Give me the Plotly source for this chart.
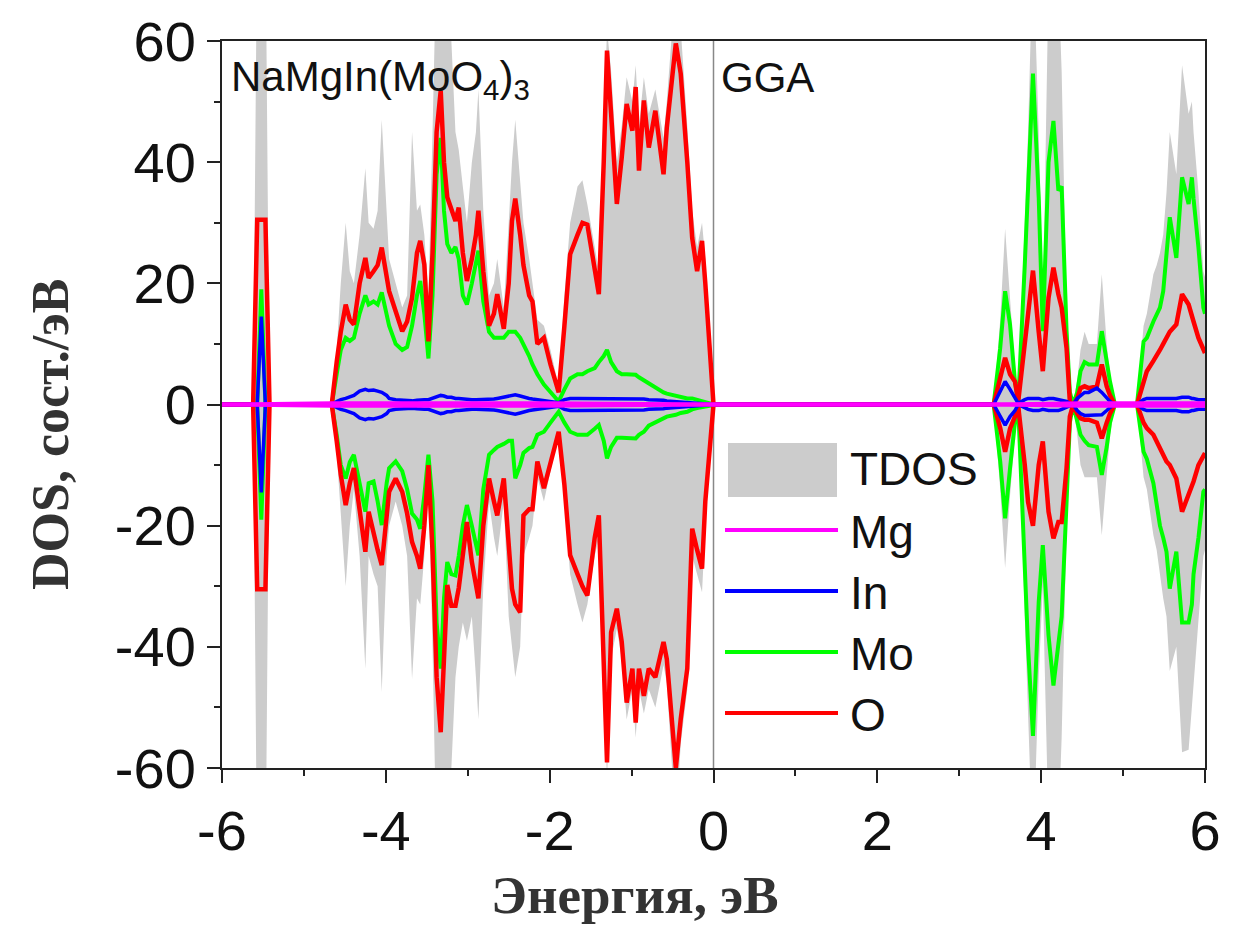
import plotly.graph_objects as go

# ---------------- data ----------------
# energy grid, eV  (three bands: low-lying spike, valence band, conduction band)
e_spike = [-6.00, -5.62, -5.57, -5.52, -5.47, -5.42]
e_vb = [-4.66, -4.60, -4.55, -4.49, -4.44, -4.39, -4.32, -4.25, -4.21, -4.15,
        -4.10, -4.05, -3.99, -3.96, -3.88, -3.80, -3.74, -3.68, -3.62, -3.58,
        -3.53, -3.48, -3.43, -3.38, -3.33, -3.29, -3.25, -3.20, -3.15, -3.11,
        -3.06, -3.01, -2.95, -2.90, -2.87, -2.81, -2.74, -2.68, -2.64, -2.56,
        -2.50, -2.46, -2.42, -2.36, -2.32, -2.25, -2.21, -2.15, -2.07, -1.99,
        -1.89, -1.82, -1.75, -1.66, -1.60, -1.54, -1.45, -1.40, -1.34, -1.30,
        -1.25, -1.18, -1.12, -1.06, -0.99, -0.95, -0.91, -0.85, -0.79, -0.71,
        -0.61, -0.57, -0.46, -0.40, -0.32, -0.26, -0.20, -0.14, -0.10, -0.05, 0.00]
e_cb = [3.42, 3.50, 3.56, 3.62, 3.68, 3.72, 3.80, 3.84, 3.90, 3.97,
        4.02, 4.09, 4.15, 4.21, 4.25, 4.31, 4.35, 4.39, 4.44, 4.48,
        4.53, 4.58, 4.68, 4.74, 4.80, 4.84, 4.90, 5.17, 5.25, 5.29,
        5.37, 5.41, 5.45, 5.49, 5.53, 5.57, 5.65, 5.72, 5.80, 5.84,
        5.86, 5.92, 5.98, 6.00]

# ---- TDOS (spin up / spin down)
tdos_up_spike = [0, 0, 80, 80, 80, 0]
tdos_up_vb = [0, 9, 20, 30, 22, 20, 28, 39, 30, 29,
              32, 47, 30, 24, 20, 16, 18, 45, 32, 33,
              28, 18, 45, 75, 75, 75, 70, 60, 45, 42,
              36, 30, 40, 45, 52, 32, 18, 20, 24, 16,
              30, 40, 47, 36, 30, 24, 20, 14, 13, 9,
              3, 18, 30, 36, 37, 33, 26, 22, 45, 62,
              55, 40, 46, 54, 50, 56, 46, 54, 48, 52,
              44, 50, 70, 62, 46, 32, 26, 30, 24, 12, 0]
tdos_up_cb = [0, 14, 29, 18, 6, 1, 30, 45, 75, 45,
              15, 70, 75, 70, 55, 15, 2, 0, 4, 9,
              12, 10, 10, 21.5, 10, 5, 0, 0, 13, 15,
              21.5, 23, 25, 28, 35, 45, 38, 56, 48, 50,
              45, 35, 22, 21]
tdos_dn_spike = [0, 0, -80, -80, -80, 0]
tdos_dn_vb = [0, -8, -18, -30, -20, -14, -25, -43.6, -25, -28,
              -30, -47.5, -25, -20, -16, -20, -25, -45.3, -32, -33,
              -25, -12, -40, -75, -75, -75, -75, -60, -45, -40,
              -36, -39, -35, -45, -52, -30, -16, -22, -25, -16,
              -35, -40, -45, -40, -25, -22, -20, -12, -16, -11,
              -5, -16, -28, -33, -36, -33, -25, -22, -47, -62,
              -42, -37, -42, -52, -47, -55, -47, -51, -47, -50,
              -43, -46, -70, -56, -47, -25, -28, -31, -20, -10, 0]
tdos_dn_cb = [0, -14, -27, -15, -5, -1, -35, -50, -75, -45,
              -30, -70, -75, -70, -55, -20, -4, 0, -5, -10,
              -12, -12, -12, -21.6, -12, -5, 0, 0, -12, -14,
              -21.6, -24, -28, -32, -35, -44, -40, -57.4, -57, -50,
              -45, -35, -25, -24]

# ---- O partial DOS
o_up_spike = [0, 0, 30.5, 30.5, 30.5, 0]
o_up_vb = [0, 7, 12, 16.5, 14, 13.2, 20, 24.2, 20.9, 22,
           23, 25.9, 21, 18.7, 15.4, 12.1, 13.7, 17.6, 25, 27,
           23.1, 10.4, 25, 45, 51.8, 40, 34.2, 32, 30.3, 32.5,
           25, 20.4, 24, 28, 32, 22, 13, 15, 18.2, 12.5,
           20, 30.3, 34, 28, 23, 18, 17, 10, 11, 6.6,
           2, 13, 24.8, 28, 30, 29.7, 22, 18.2, 40, 58.4,
           48, 33.1, 40.8, 49.6, 45.2, 52.4, 38.6, 50.2, 42.4, 48.5,
           38, 45.7, 59.6, 54.6, 40, 27.5, 22, 27, 20, 10, 0]
o_up_cb = [0, 4, 7.7, 5, 3.8, 0.5, 10, 15, 22.1, 12,
           5.5, 17.6, 22.6, 18.2, 16, 9.3, 0.5, 0, 1, 2.7,
           3, 2.7, 3, 6.6, 3, 1.5, 0, 0, 4, 5.5,
           7.2, 8, 9, 10, 11, 12, 13.2, 18.2, 16.5, 15,
           13.7, 11, 8.8, 8.5]
o_dn_spike = [0, 0, -30.5, -30.5, -30.5, 0]
o_dn_vb = [0, -6, -11.6, -16.6, -13, -10.5, -18, -24.3, -17.7, -21.6,
           -24, -26.5, -18, -14.4, -12.2, -14.4, -18, -22.7, -25, -27.1,
           -20, -10, -24.3, -45, -54.1, -43.6, -29.8, -33.2, -33.2, -30.3,
           -25, -19.4, -26, -30, -32, -20, -12.2, -16, -18.3, -12.2,
           -22, -30.4, -33, -34.3, -18.3, -17.3, -17.3, -9.4, -13.8, -9.4,
           -4.5, -13.3, -24.9, -28, -30, -31.5, -22, -18.3, -43.6, -59.1,
           -37.6, -33.7, -39.2, -49.2, -43.6, -52.5, -43.6, -48.1, -43.6, -45,
           -39.2, -42, -60, -51.9, -43.6, -20.5, -24, -27.1, -16, -8, 0]
o_dn_cb = [0, -3.9, -7.8, -4, -2, -0.3, -10, -16.1, -20, -10,
           -6.1, -17.7, -22.1, -19.4, -19.4, -10.5, -2, 0, -1.5, -2.3,
           -2.5, -2.5, -3, -5.6, -3, -1.5, 0, 0, -3, -3.9,
           -5, -6.1, -7.5, -8.5, -9.4, -10, -12.2, -17.7, -15, -13.5,
           -12.7, -10, -8.3, -8]

# ---- Mo partial DOS
mo_up_spike = [0, 0, 0, 19, 0, 0]
mo_up_vb = [0, 5, 9, 11, 10.5, 11, 15, 18, 16.5, 17,
            16.5, 18.5, 15, 13, 10, 9, 9.5, 13, 18, 20.4,
            15, 7.6, 18, 38, 44, 32, 26.5, 25, 26, 24,
            18, 16.5, 20, 23, 25.4, 17, 12, 11, 11, 11,
            12, 12, 12, 11, 10, 8, 6.6, 5, 3.3, 2,
            0.5, 2.5, 4.3, 5, 5, 5.5, 6, 7, 8, 9,
            7, 5.5, 5, 5, 5, 4.9, 4.5, 4, 3.5, 2.7,
            2, 1.8, 1.4, 1.2, 1, 1, 0.8, 0.6, 0.5, 0.3, 0]
mo_up_cb = [0, 9.3, 18.7, 13.2, 3.8, 0.5, 23.1, 35, 54.6, 34.2,
            12.1, 40, 46.8, 35.3, 36, 12.1, 2, 0, 2, 5.5,
            7, 6.6, 6.6, 12.1, 7, 3.8, 0, 0, 10.4, 11,
            13.7, 15, 16, 18.7, 25, 30.9, 24.2, 37.5, 33.1, 37.5,
            34, 25.9, 16, 15]
mo_dn_spike = [0, 0, 0, -19, 0, 0]
mo_dn_vb = [0, -5, -10, -12.2, -9.5, -8.3, -13, -17.7, -13, -12.7,
            -16, -19.9, -13, -10.5, -9.4, -11, -14, -18, -19, -20.5,
            -15, -8.3, -16, -36, -43.6, -32, -26, -28, -28.2, -25,
            -20, -16.6, -20, -23, -24.9, -14, -8.3, -7.5, -7, -6.5,
            -6, -6, -12.2, -10, -8, -7.2, -7, -5, -4.5, -3,
            -1.2, -3, -4.5, -5, -5, -5, -4, -3.4, -6, -8.9,
            -7, -5.5, -5.5, -5.5, -5.6, -5.6, -5, -4.5, -3.5, -3,
            -2.3, -2, -1.7, -1.4, -1.2, -0.8, -0.6, -0.5, -0.3, -0.2, 0]
mo_dn_cb = [0, -9.4, -18.8, -10.5, -3, -0.5, -27.1, -40, -54.7, -32.6,
            -23.2, -38.1, -46.4, -39.2, -35, -16.1, -3, 0, -3, -5,
            -6, -6.7, -7, -11.6, -7, -3, 0, 0, -7.8, -9,
            -13, -16.1, -20, -22, -24.3, -30.4, -24.3, -36, -36, -33,
            -28, -22, -14.4, -14]

# ---- In partial DOS
in_up_spike = [0, 0, 0, 14.5, 0, 0]
in_up_vb = [0, 0.5, 0.8, 1, 1.2, 1.5, 2.2, 2.5, 2.3, 2.4,
            2.2, 2, 1.5, 1, 0.8, 0.7, 0.6, 0.6, 0.7, 0.8,
            0.8, 0.8, 1, 1.2, 1.5, 1.4, 1.2, 1.2, 1, 1,
            0.9, 0.8, 0.8, 0.8, 0.8, 0.8, 0.8, 0.9, 1, 1.2,
            1.4, 1.5, 1.6, 1.4, 1.2, 1, 0.9, 0.8, 0.7, 0.6,
            0.3, 0.8, 1, 1, 1, 1, 1, 1, 1, 1,
            1, 1, 1, 1, 1, 1, 0.9, 0.9, 0.8, 0.8,
            0.7, 0.6, 0.5, 0.5, 0.4, 0.3, 0.3, 0.2, 0.2, 0.1, 0]
in_up_cb = [0, 2, 3.8, 2.5, 1, 0.2, 0.8, 1, 1, 1,
            0.8, 1, 1, 0.8, 0.8, 0.5, 0.2, 0, 1, 1.5,
            2, 2, 2.7, 2, 1, 0.5, 0, 0, 0.8, 1,
            1, 1, 1, 1, 1, 1, 1, 1.2, 1.2, 1,
            1, 0.8, 0.8, 0.8]
in_dn_spike = [0, 0, 0, -14.5, 0, 0]
in_dn_vb = [0, -0.5, -0.8, -1, -1.2, -1.5, -2.2, -2.5, -2.3, -2.4,
            -2.2, -2, -1.5, -1, -0.8, -0.7, -0.6, -0.6, -0.7, -0.8,
            -0.8, -0.8, -1, -1.2, -1.5, -1.4, -1.2, -1.2, -1, -1,
            -0.9, -0.8, -0.8, -0.8, -0.8, -0.8, -0.8, -0.9, -1, -1.2,
            -1.4, -1.5, -1.6, -1.4, -1.2, -1, -0.9, -0.8, -0.7, -0.6,
            -0.3, -0.8, -1, -1, -1, -1, -1, -1, -1, -1,
            -1, -1, -1, -1, -1, -1, -0.9, -0.9, -0.8, -0.8,
            -0.7, -0.6, -0.5, -0.5, -0.4, -0.3, -0.3, -0.2, -0.2, -0.1, 0]
in_dn_cb = [0, -2, -3.4, -2, -1, 0, -0.5, -0.8, -1, -1,
            -0.8, -1, -1, -1, -0.8, -0.5, -0.2, 0, -1, -1.5,
            -1.8, -1.8, -1.7, -1.7, -1, -0.5, 0, 0, -0.8, -1,
            -1, -1, -1, -1, -1, -1, -1, -1.2, -1.2, -1,
            -1, -0.8, -0.8, -0.8]

# ---- Mg partial DOS (practically zero everywhere)
e_mg = [-6.0, -4.66, -2.0, 0.0, 3.42, 4.5, 6.0]
mg_up = [0, 0.2, 0.2, 0, 0, 0.2, 0.2]
mg_dn = [0, -0.2, -0.2, 0, 0, -0.2, -0.2]

# ---- axis ticks / texts
x_tickvals = [-6, -4, -2, 0, 2, 4, 6]
x_ticktext = ["-6", "-4", "-2", "0", "2", "4", "6"]
y_tickvals = [-60, -40, -20, 0, 20, 40, 60]
y_ticktext = ["-60", "-40", "-20", "0", "20", "40", "60"]
legend_names = ["TDOS", "Mg", "In", "Mo", "O"]
legend_colors = ["#cccccc", "#ff00ff", "#0000ff", "#00ff00", "#ff0000"]

# ---------------- assemble ----------------
energy = e_spike + e_vb + e_cb
series = {
    "tdos_up": tdos_up_spike + tdos_up_vb + tdos_up_cb,
    "tdos_dn": tdos_dn_spike + tdos_dn_vb + tdos_dn_cb,
    "o_up": o_up_spike + o_up_vb + o_up_cb,
    "o_dn": o_dn_spike + o_dn_vb + o_dn_cb,
    "mo_up": mo_up_spike + mo_up_vb + mo_up_cb,
    "mo_dn": mo_dn_spike + mo_dn_vb + mo_dn_cb,
    "in_up": in_up_spike + in_up_vb + in_up_cb,
    "in_dn": in_dn_spike + in_dn_vb + in_dn_cb,
}
for k, v in series.items():
    assert len(v) == len(energy), (k, len(v), len(energy))

fig = go.Figure()
for key in ["tdos_up", "tdos_dn"]:
    fig.add_trace(go.Scatter(x=energy, y=series[key], mode="lines",
                             line=dict(width=0, color="#cccccc"),
                             fill="tozeroy", fillcolor="#cccccc",
                             showlegend=False, hoverinfo="skip"))
for key, col, w in [("mo_up", "#00ff00", 4), ("mo_dn", "#00ff00", 4),
                    ("o_up", "#ff0000", 4.5), ("o_dn", "#ff0000", 4.5),
                    ("in_up", "#0000ff", 3.5), ("in_dn", "#0000ff", 3.5)]:
    fig.add_trace(go.Scatter(x=energy, y=series[key], mode="lines",
                             line=dict(width=w, color=col),
                             showlegend=False))
for yy in [mg_up, mg_dn]:
    fig.add_trace(go.Scatter(x=e_mg, y=yy, mode="lines",
                             line=dict(width=4, color="#ff00ff"),
                             showlegend=False))

# page has an 8 px body margin; target plot area in screen pixels:
OFF = 8
SX0, SX1, SY0, SY1 = 222, 1205, 41, 768
W, H = 1221, 920
L = SX0 - OFF
T = SY0 - OFF
R = W - (SX1 - OFF)
B = H - (SY1 - OFF)
PW, PH = SX1 - SX0, SY1 - SY0


def px(xs):
    return (xs - SX0) / PW


def py(ys):
    return (SY1 - ys) / PH


axis_common = dict(ticks="outside", ticklen=13, tickwidth=2, tickcolor="#222",
                   showline=True, linecolor="#222", linewidth=2, mirror=True,
                   showgrid=False, zeroline=False, automargin=False,
                   tickfont=dict(family="Liberation Sans, Arial", size=56, color="#111"))

fig.update_layout(
    width=W, height=H,
    margin=dict(l=L, r=R, t=T, b=B, autoexpand=False),
    paper_bgcolor="white", plot_bgcolor="white",
    showlegend=False,
    xaxis=dict(range=[-6, 6], tickvals=x_tickvals, ticktext=x_ticktext,
               minor=dict(ticks="outside", tick0=-6, dtick=1, ticklen=6,
                          tickwidth=2, tickcolor="#222"),
               **axis_common),
    yaxis=dict(range=[-60, 60], tickvals=y_tickvals, ticktext=y_ticktext,
               minor=dict(ticks="outside", tick0=-60, dtick=10, ticklen=6,
                          tickwidth=2, tickcolor="#222"),
               **axis_common),
)

shapes = [dict(type="line", xref="x", yref="paper", x0=0, x1=0, y0=0, y1=1,
               line=dict(color="#888888", width=1.5), layer="below")]
# legend (drawn by hand)
shapes.append(dict(type="rect", xref="paper", yref="paper",
                   x0=px(728), x1=px(837), y0=py(497), y1=py(443),
                   fillcolor=legend_colors[0], line=dict(width=0)))
leg_y = [467, 530, 591, 652, 713]
for i in range(1, 5):
    shapes.append(dict(type="line", xref="paper", yref="paper",
                       x0=px(725), x1=px(838), y0=py(leg_y[i]), y1=py(leg_y[i]),
                       line=dict(color=legend_colors[i], width=4)))
annotations = []
for i, name in enumerate(legend_names):
    annotations.append(dict(xref="paper", yref="paper", x=px(848), y=py(leg_y[i] + 2),
                            xanchor="left", yanchor="middle", showarrow=False,
                            text=name,
                            font=dict(family="Liberation Sans, Arial", size=46, color="#111")))
annotations += [
    dict(xref="paper", yref="paper", x=px(229), y=py(80), xanchor="left", yanchor="middle",
         showarrow=False, text="NaMgIn(MoO<sub>4</sub>)<sub>3</sub>",
         font=dict(family="Liberation Sans, Arial", size=42, color="#111")),
    dict(xref="paper", yref="paper", x=px(719), y=py(77), xanchor="left", yanchor="middle",
         showarrow=False, text="GGA",
         font=dict(family="Liberation Sans, Arial", size=42, color="#111")),
    dict(xref="paper", yref="paper", x=px(635), y=py(895), xanchor="center", yanchor="middle",
         showarrow=False, text="<b>Энергия, эВ</b>",
         font=dict(family="Liberation Serif, Times New Roman", size=53, color="#333")),
    dict(xref="paper", yref="paper", x=px(50), y=py(435), xanchor="center", yanchor="middle",
         showarrow=False, text="<b>DOS, сост./эВ</b>", textangle=-90,
         font=dict(family="Liberation Serif, Times New Roman", size=52, color="#333")),
]
fig.update_layout(shapes=shapes, annotations=annotations)

fig.write_html("out.html")
